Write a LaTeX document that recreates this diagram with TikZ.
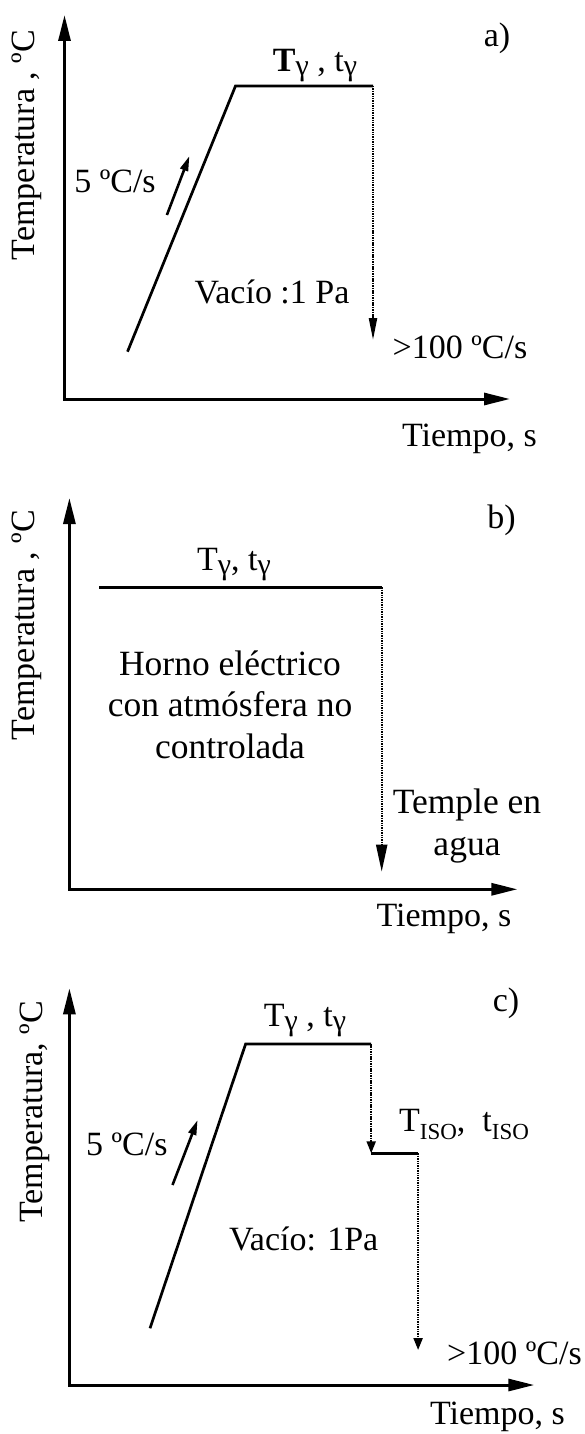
\documentclass[tikz,border=0pt]{standalone}
\usepackage{fontspec}
\setmainfont{Liberation Serif}
\usetikzlibrary{arrows.meta}
\newcommand\fsN{\fontsize{34}{40}\selectfont}
\newcommand\fsB{\fontsize{35.5}{42}\selectfont}
\newcommand\gsub{\raisebox{-4pt}{\fontsize{30}{30}\selectfont γ}}
\newcommand\isub{\raisebox{-8pt}{\fontsize{23}{23}\selectfont ISO}}
\tikzset{
  axis/.style={line width=3pt, line join=miter,
    {Triangle[length=26pt,width=12pt]}-{Triangle[length=26pt,width=12pt]}},
  curve/.style={line width=2.7pt, line join=miter},
  quench/.style={line width=2.1pt, dash pattern=on 1.5pt off 0.9pt},
  rate/.style={line width=2.6pt, -{Triangle[length=15pt,width=8pt]}},
  lbl/.style={anchor=base, inner sep=0pt, font=\fsN},
  lblB/.style={anchor=base, inner sep=0pt, font=\fsB},
  ylbl/.style={anchor=base, inner sep=0pt, font=\fsN, rotate=90},
}
\begin{document}
\begin{tikzpicture}[x=1pt,y=-1pt]
\useasboundingbox (0,0) rectangle (585,1434);
% ---------------- panel a ----------------
\coordinate (aO) at (64.5,399);
\coordinate (aY) at (64.5,15);
\coordinate (aX) at (510,399);
\draw[axis] (aY) -- (aO) -- (aX);
\coordinate (aR0) at (127.5,351.7);
\coordinate (aR1) at (235.5,86);
\coordinate (aP1) at (373,86);
\coordinate (aQ) at (373,340);
\draw[curve] (aR0) -- (aR1) -- (aP1);
\draw[quench, -{Triangle[length=22pt,width=8pt]}] (aP1) -- (aQ);
\coordinate (aA0) at (166.9,215);
\coordinate (aA1) at (189.4,156);
\draw[rate] (aA0) -- (aA1);
\node[lbl] (aRate) at (115,193) {5 ºC/s};
\node[lbl] (aTg) at (315,71.7) {\textbf{T}\gsub{} , t\gsub};
\node[lbl] (aTag) at (497,46.7) {a)};
\node[lbl] (aVac) at (272,303) {Vacío :1 Pa};
\node[lbl] (aFast) at (460,358) {>100 ºC/s};
\node[lbl] (aTime) at (469.5,446.7) {Tiempo, s};
\node[ylbl] (aTemp) at (34,145) {Temperatura , ºC};
% ---------------- panel b ----------------
\coordinate (bO) at (69.4,889.3);
\coordinate (bY) at (69.4,498);
\coordinate (bX) at (517.4,889.3);
\draw[axis] (bY) -- (bO) -- (bX);
\coordinate (bP0) at (99.4,587.3);
\coordinate (bP1) at (381.7,587.3);
\coordinate (bQ) at (381.7,871.7);
\draw[curve, line width=2.4pt] (bP0) -- (bP1);
\draw[quench, -{Triangle[length=27pt,width=11pt]}] (bP1) -- (bQ);
\node[lbl] (bTag) at (501.5,528) {b)};
\node[lbl] (bTg) at (234,570) {T\gsub, t\gsub};
\node[lblB] (bH1) at (230,675) {Horno eléctrico};
\node[lblB] (bH2) at (230,716.7) {con atmósfera no};
\node[lblB] (bH3) at (230,758) {controlada};
\node[lblB] (bW1) at (467,813) {Temple en};
\node[lblB] (bW2) at (467,855) {agua};
\node[lbl] (bTime) at (444,926.7) {Tiempo, s};
\node[ylbl] (bTemp) at (34,625) {Temperatura , ºC};
% ---------------- panel c ----------------
\coordinate (cO) at (69.4,1385);
\coordinate (cY) at (69.4,988.3);
\coordinate (cX) at (534.3,1385);
\draw[axis] (cY) -- (cO) -- (cX);
\coordinate (cR0) at (150,1328.3);
\coordinate (cR1) at (245.6,1044);
\coordinate (cP1) at (371.2,1044);
\coordinate (cI0) at (371.2,1153.3);
\coordinate (cI1) at (418.1,1153.3);
\coordinate (cQ) at (418.1,1350);
\draw[curve] (cR0) -- (cR1) -- (cP1);
\draw[quench, -{Triangle[length=12pt,width=9pt]}] (cP1) -- (cI0);
\draw[curve, line width=2.4pt] (cI0) -- (cI1);
\draw[quench, -{Triangle[length=12pt,width=9pt]}] (cI1) -- (cQ);
\coordinate (cA0) at (172.5,1185);
\coordinate (cA1) at (197.6,1120);
\draw[rate] (cA0) -- (cA1);
\node[lbl] (cTag) at (506,1011.7) {c)};
\node[lbl] (cTg) at (305,1026.7) {T\gsub{} , t\gsub};
\node[lbl] (cIso) at (464,1131.7) {T\isub,\hspace{0.5em}t\isub};
\node[lbl] (cRate) at (126.8,1155) {5 ºC/s};
\node[lbl] (cVac) at (303.7,1250) {Vacío: 1Pa};
\node[lbl] (cFast) at (514.5,1364) {>100 ºC/s};
\node[lbl] (cTime) at (497.5,1424) {Tiempo, s};
\node[ylbl] (cTemp) at (42,1112) {Temperatura, ºC};
\end{tikzpicture}
\end{document}
